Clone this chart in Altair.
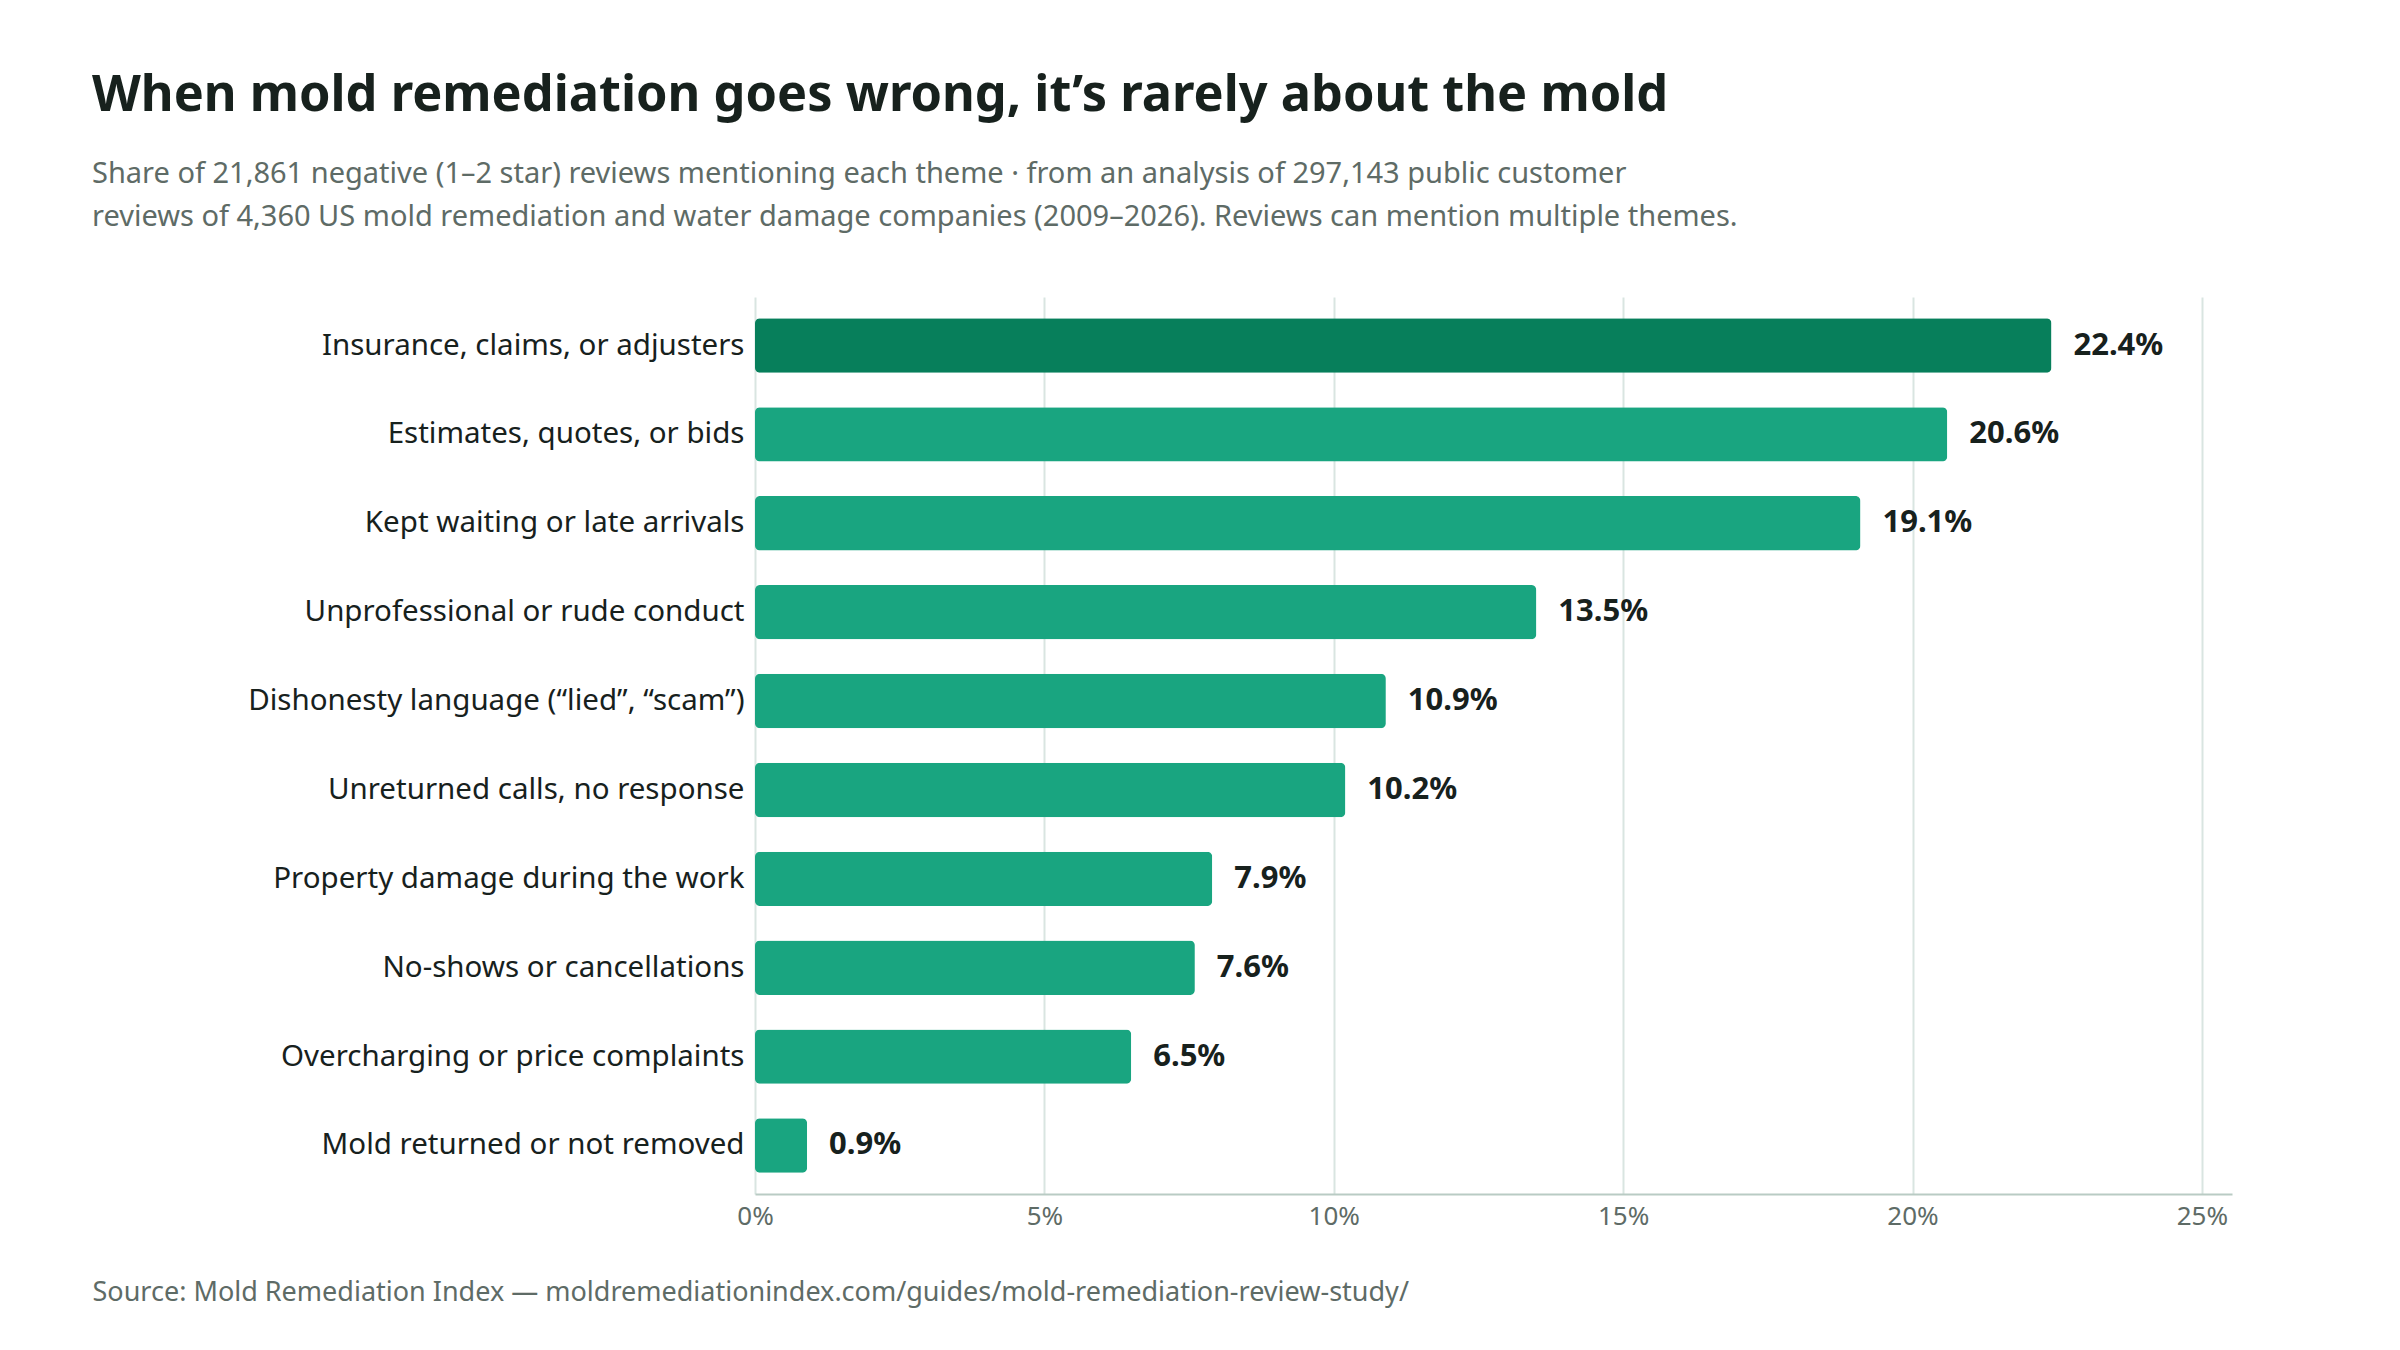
import altair as alt
import pandas as pd

categories = [
    "Insurance, claims, or adjusters",
    "Estimates, quotes, or bids",
    "Kept waiting or late arrivals",
    "Unprofessional or rude conduct",
    "Dishonesty language (\u201clied\u201d, \u201cscam\u201d)",
    "Unreturned calls, no response",
    "Property damage during the work",
    "No-shows or cancellations",
    "Overcharging or price complaints",
    "Mold returned or not removed",
]
values = [22.4, 20.6, 19.1, 13.5, 10.9, 10.2, 7.9, 7.6, 6.5, 0.9]
highlight = [True, False, False, False, False, False, False, False, False, False]
x_ticks = [0, 5, 10, 15, 20, 25]

title_text = "When mold remediation goes wrong, it\u2019s rarely about the mold"
subtitle_lines = [
    "Share of 21,861 negative (1\u20132 star) reviews mentioning each theme \u00b7 from an analysis of 297,143 public customer",
    "reviews of 4,360 US mold remediation and water damage companies (2009\u20132026). Reviews can mention multiple themes.",
]
source_text = "Source: Mold Remediation Index \u2014 moldremediationindex.com/guides/mold-remediation-review-study/"

FONT = "Noto Sans"
DARK = "#17211d"
GREY = "#5e6b66"

df = pd.DataFrame({"theme": categories, "share": values, "top": highlight})

y_enc = alt.Y(
    "theme:N",
    sort=None,
    scale=alt.Scale(paddingInner=0.388, paddingOuter=0.24),
    axis=alt.Axis(
        title=None,
        domain=False,
        ticks=False,
        grid=False,
        labelPadding=11,
        labelFontSize=29.5,
        labelColor=DARK,
        labelFont=FONT,
        labelLimit=0,
    ),
)

x_scale = alt.Scale(domain=[0, 25.52], nice=False)

bars = alt.Chart(df).mark_bar(cornerRadius=5).encode(
    y=y_enc,
    x=alt.X(
        "share:Q",
        scale=x_scale,
        axis=alt.Axis(
            values=x_ticks,
            labelExpr="datum.value + '%'",
            ticks=False,
            labelFlush=False,
            labelPadding=9,
            labelFontSize=26,
            labelColor=GREY,
            labelFont=FONT,
            domainColor="#b9cbc4",
            domainWidth=2,
            gridColor="#d9e5e1",
            gridWidth=2,
            title=source_text,
            titleX=-663,
            titleY=106,
            titleAlign="left",
            titleBaseline="alphabetic",
            titleFont=FONT,
            titleFontSize=27,
            titleFontWeight="normal",
            titleColor=GREY,
        ),
    ),
    color=alt.Color(
        "top:N",
        scale=alt.Scale(domain=[True, False], range=["#077f5b", "#19a580"]),
        legend=None,
    ),
)

labels = alt.Chart(df).transform_calculate(
    lbl="format(datum.share, '.1f') + '%'"
).mark_text(
    align="left", baseline="middle", dx=22, font=FONT, fontSize=31, fontWeight="bold", color=DARK
).encode(
    y=alt.Y("theme:N", sort=None),
    x=alt.X("share:Q", scale=x_scale),
    text="lbl:N",
)

chart = (
    alt.layer(bars, labels)
    .properties(
        width=1477,
        height=897,
        background="white",
        autosize=alt.AutoSizeParams(type="none"),
        padding={"left": 747, "top": 289, "right": 160, "bottom": 148},
        title=alt.TitleParams(
            text=title_text,
            subtitle=subtitle_lines,
            anchor="start",
            frame="group",
            dx=-663,
            offset=65,
            font=FONT,
            fontSize=50.5,
            fontWeight="bold",
            color=DARK,
            subtitleFont=FONT,
            subtitleFontSize=29,
            subtitleColor=GREY,
            subtitleLineHeight=43,
            subtitlePadding=39,
        ),
    )
    .configure_view(stroke="transparent", strokeWidth=0)
)

chart.save("out.html", embed_options={"renderer": "svg", "actions": False})
